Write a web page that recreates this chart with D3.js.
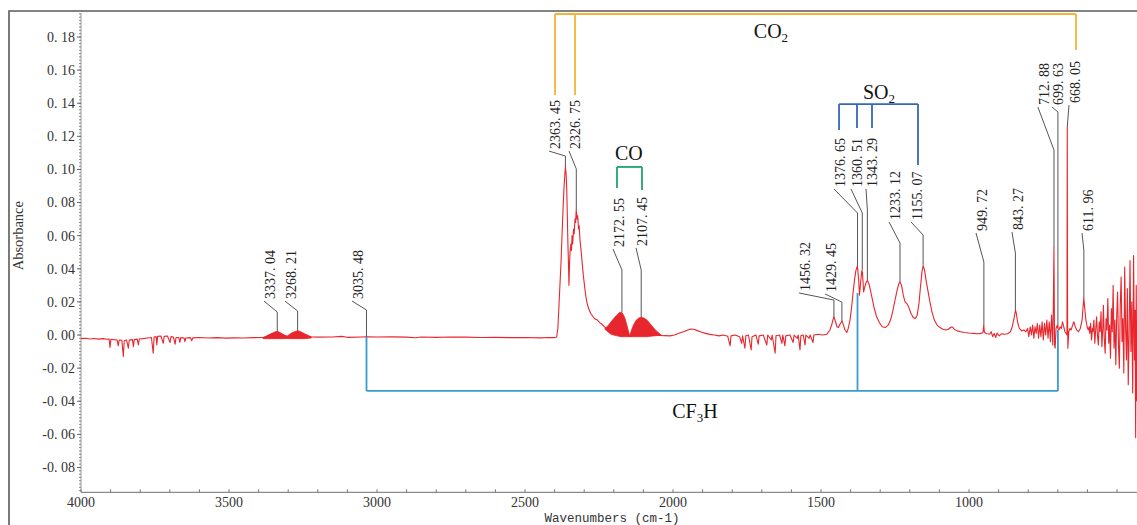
<!DOCTYPE html>
<html>
<head>
<meta charset="utf-8">
<script src="https://cdn.jsdelivr.net/npm/d3@7"></script>
<style>
  html, body { margin: 0; padding: 0; background: #fff; }
  svg { display: block; }
</style>
</head>
<body>
<svg id="chart" width="1137" height="525"></svg>
<script>
// ---------------- DATA ----------------
const xTickValues = [4000, 3500, 3000, 2500, 2000, 1500, 1000];
const yTickValues = [-0.08, -0.06, -0.04, -0.02, 0.00, 0.02, 0.04, 0.06, 0.08, 0.10, 0.12, 0.14, 0.16, 0.18];

// main FTIR trace: [wavenumber cm-1, absorbance]
const spectrum = [
  [4000,-0.0022],[3985,-0.0020],[3970,-0.0024],[3955,-0.0021],[3940,-0.0025],[3925,-0.0022],[3912,-0.0026],[3905,-0.0024],
  [3902,-0.0075],[3899,-0.0026],[3890,-0.0028],[3878,-0.0030],[3874,-0.0065],[3871,-0.0030],[3862,-0.0032],[3857,-0.0130],
  [3854,-0.0035],[3846,-0.0030],[3840,-0.0080],[3837,-0.0030],[3826,-0.0028],[3823,-0.0070],[3820,-0.0028],[3810,-0.0025],
  [3806,-0.0060],[3803,-0.0024],[3790,-0.0022],[3775,-0.0018],[3762,-0.0015],[3756,-0.0110],[3753,-0.0012],[3746,-0.0010],
  [3744,-0.0060],[3741,-0.0008],[3730,-0.0006],[3722,-0.0050],[3719,-0.0008],[3708,-0.0006],[3699,-0.0045],[3696,-0.0010],
  [3688,-0.0012],[3682,-0.0055],[3679,-0.0015],[3670,-0.0015],[3666,-0.0045],[3663,-0.0016],[3652,-0.0018],[3649,-0.0040],
  [3646,-0.0018],[3630,-0.0016],[3626,-0.0035],[3622,-0.0017],[3600,-0.0015],[3570,-0.0018],[3540,-0.0016],[3510,-0.0019],
  [3480,-0.0017],[3450,-0.0018],[3420,-0.0016],[3395,-0.0015],[3380,-0.0014],[3360,0.0004],[3340,0.0012],[3330,0.0010],
  [3310,-0.0006],[3300,-0.0006],[3285,0.0008],[3268,0.0016],[3255,0.0008],[3235,-0.0006],[3220,-0.0012],[3200,-0.0013],
  [3150,-0.0012],[3120,-0.0008],[3100,-0.0014],[3050,-0.0012],[3035,-0.0011],[3000,-0.0012],[2950,-0.0011],[2900,-0.0013],
  [2870,-0.0017],[2850,-0.0012],[2800,-0.0014],[2750,-0.0012],[2700,-0.0013],[2650,-0.0015],[2600,-0.0014],[2550,-0.0016],
  [2500,-0.0015],[2450,-0.0017],[2420,-0.0015],[2400,-0.0016],[2393,-0.0012],
  [2389,0.004],[2386,0.015],[2382,0.030],[2378,0.045],[2375,0.060],[2371,0.078],[2368,0.090],[2365,0.098],[2363.5,0.1015],
  [2361,0.097],[2359,0.088],[2357,0.072],[2355,0.055],[2353,0.042],[2351.5,0.030],[2350,0.040],[2348,0.050],[2345,0.055],
  [2343,0.051],[2341,0.060],[2339,0.055],[2336,0.064],[2334,0.061],[2331,0.070],[2329,0.068],[2327,0.0755],[2324,0.070],
  [2322,0.072],[2319,0.064],[2317,0.066],[2314,0.057],[2311,0.052],[2307,0.044],[2303,0.036],[2299,0.030],[2295,0.024],
  [2290,0.019],[2285,0.016],[2278,0.013],[2270,0.011],[2262,0.0095],[2255,0.009],[2248,0.0075],[2240,0.0065],[2232,0.0050],
  [2225,0.0040],[2215,0.0030],[2200,0.0025],[2185,0.0020],[2170,0.0015],[2160,0.0010],[2150,0.0000],[2145,-0.0008],
  [2135,-0.0004],[2120,0.0000],[2105,0.0004],[2090,0.0004],[2075,0.0002],[2060,0.0000],[2045,-0.0002],[2030,-0.0004],
  [2010,-0.0005],[1995,0.0000],[1980,0.0010],[1965,0.0020],[1950,0.0030],[1940,0.0036],[1930,0.0035],[1920,0.0028],
  [1905,0.0018],[1890,0.0010],[1875,0.0004],[1860,0.0000],[1845,-0.0005],[1830,0.0000],[1815,-0.0008],[1807,-0.0065],
  [1804,-0.0005],[1790,0.0000],[1775,-0.0010],[1768,-0.0050],[1765,-0.0005],[1757,-0.0080],[1754,-0.0005],[1745,0.0000],
  [1736,-0.0090],[1733,-0.0010],[1720,0.0000],[1712,-0.0055],[1709,-0.0005],[1695,0.0000],[1683,-0.0060],[1680,0.0000],
  [1668,-0.0030],[1665,0.0000],[1655,-0.0110],[1652,-0.0005],[1640,0.0000],[1632,-0.0050],[1629,0.0000],[1622,-0.0065],
  [1619,-0.0005],[1605,0.0000],[1594,-0.0045],[1591,0.0000],[1580,-0.0020],[1577,0.0000],[1571,-0.0090],[1568,-0.0005],
  [1560,0.0000],[1554,-0.0060],[1551,0.0000],[1540,-0.0020],[1537,0.0000],[1527,-0.0045],[1524,0.0000],[1510,0.0005],
  [1495,0.0000],[1480,0.0005],[1470,0.0030],[1464,0.0060],[1460,0.0090],[1456,0.0110],[1451,0.0080],[1446,0.0050],
  [1441,0.0045],[1436,0.0065],[1429,0.0085],[1424,0.0060],[1419,0.0030],[1413,0.0015],[1408,0.0040],[1402,0.0090],
  [1397,0.0160],[1392,0.0250],[1387,0.0330],[1382,0.0390],[1377,0.0417],[1373,0.0340],[1370,0.0240],[1366,0.0320],
  [1362,0.0390],[1360,0.0380],[1356,0.0260],[1352,0.0290],[1347,0.0320],[1343,0.0330],[1338,0.0310],[1333,0.0270],
  [1327,0.0220],[1320,0.0160],[1312,0.0110],[1303,0.0075],[1293,0.0050],[1283,0.0045],[1273,0.0060],[1265,0.0090],
  [1258,0.0140],[1250,0.0210],[1243,0.0270],[1237,0.0310],[1233,0.0320],[1228,0.0300],[1222,0.0240],[1216,0.0200],
  [1210,0.0190],[1204,0.0170],[1196,0.0130],[1188,0.0105],[1181,0.0100],[1175,0.0120],[1169,0.0190],[1164,0.0290],
  [1159,0.0380],[1155,0.0420],[1150,0.0390],[1145,0.0330],[1139,0.0270],[1132,0.0200],[1125,0.0140],[1117,0.0090],
  [1108,0.0060],[1098,0.0045],[1088,0.0035],[1078,0.0030],[1070,0.0035],[1062,0.0045],[1057,0.0050],[1050,0.0035],
  [1040,0.0025],[1028,0.0020],[1015,0.0015],[1000,0.0012],[985,0.0010],[970,0.0008],[958,0.0010],[953,0.0015],
  [950,0.0060],[948,0.0015],[940,0.0008],[930,0.0005],[925,0.0020],[920,-0.0010],[915,0.0010],[910,-0.0015],
  [905,0.0012],[898,-0.0005],[890,0.0008],[880,0.0005],[870,0.0008],[860,0.0020],[854,0.0050],[849,0.0090],
  [845,0.0130],[843,0.0150],[840,0.0130],[836,0.0080],[830,0.0040],[822,0.0025],[815,0.0030],[808,0.0020],
  [802,0.0040],[798,-0.0010],[793,0.0050],[789,0.0000],[785,0.0060],[781,-0.0020],[777,0.0050],[773,0.0010],
  [769,0.0070],[765,-0.0020],[761,0.0060],[757,-0.0010],[753,0.0080],[749,-0.0030],[745,0.0070],[741,0.0000],
  [737,0.0090],[733,-0.0020],[729,0.0080],[725,-0.0040],[721,0.0120],[717,-0.0060],[715,0.0200],[713,0.0525],
  [711,-0.0060],[709,-0.0080],[706,0.0040],[702,0.0060],[699.6,0.0040],[696,0.0030],[692,0.0050],[688,0.0040],
  [684,0.0080],[680,0.0050],[676,0.0020],[672,0.0010],[669,0.0000],[668,0.1256],[667,0.0100],[666,-0.0080],
  [663,0.0020],[659,0.0040],[655,0.0030],[650,0.0060],[646,0.0080],[641,0.0050],[636,0.0030],[630,0.0020],
  [624,0.0040],[618,0.0090],[615,0.0160],[612,0.0223],[609,0.0160],[605,0.0090],[601,0.0050],[597,0.0030],
  [594,0.0050],[592,0.0010],[589,0.0070],[586,-0.0030],[583,0.0040],[581,0.0020],[578,0.0090],[575,-0.0050],
  [572,0.0030],[569,0.0110],[566,0.0000],[563,-0.0060],[560,0.0080],[557,0.0020],[554,0.0140],[551,-0.0070],
  [548,0.0040],[546,0.0180],[543,-0.0020],[540,-0.0110],[537,0.0100],[534,0.0030],[531,0.0220],[528,-0.0050],
  [525,0.0060],[522,-0.0140],[519,0.0160],[516,0.0020],[513,0.0300],[510,-0.0080],[507,0.0090],[504,-0.0180],
  [501,0.0120],[498,0.0260],[495,-0.0060],[492,-0.0200],[489,0.0180],[486,0.0350],[483,-0.0040],[480,0.0100],
  [477,-0.0230],[474,0.0410],[471,0.0050],[468,-0.0150],[465,0.0280],[462,-0.0300],[459,0.0020],[456,0.0450],
  [453,-0.0100],[450,0.0200],[447,-0.0350],[444,0.0480],[441,-0.0150],[439,0.0150],[437,-0.0620],[435,0.0300],
  [433,-0.0400]
];

// dense rotational fine-structure bands: [wavenumber, lower, upper]
const band3337 = [[3385,-0.0022,-0.0015],[3370,-0.0022,-0.0005],[3355,-0.0022,0.0010],[3345,-0.0022,0.0018],[3337,-0.0022,0.0022],[3328,-0.0022,0.0015],[3315,-0.0022,0.0002],[3300,-0.0020,-0.0012]];
const band3268 = [[3305,-0.0020,-0.0012],[3295,-0.0022,0.0005],[3285,-0.0022,0.0015],[3275,-0.0022,0.0022],[3268,-0.0022,0.0026],[3258,-0.0022,0.0020],[3245,-0.0022,0.0008],[3232,-0.0020,-0.0003],[3222,-0.0018,-0.0013]];
const bandCOR = [[2230,0.0035,0.0040],[2220,0.0020,0.0055],[2210,0.0005,0.0078],[2200,0.0000,0.0100],[2190,-0.0005,0.0120],[2182,-0.0008,0.0134],[2176,-0.0010,0.0138],[2170,-0.0010,0.0130],[2163,-0.0010,0.0105],[2157,-0.0010,0.0068],[2151,-0.0010,0.0025],[2146,-0.0010,-0.0005]];
const bandCOP = [[2146,-0.0010,-0.0005],[2140,-0.0010,0.0030],[2133,-0.0010,0.0062],[2125,-0.0010,0.0088],[2116,-0.0010,0.0102],[2107,-0.0010,0.0107],[2098,-0.0010,0.0102],[2088,-0.0010,0.0090],[2078,-0.0008,0.0070],[2068,-0.0006,0.0048],[2058,-0.0004,0.0028],[2048,-0.0002,0.0012],[2040,0.0000,0.0000]];

// peak annotations
const peakWn  = [3337.04, 3268.21, 3035.48, 2363.45, 2326.75, 2172.55, 2107.45, 1456.32, 1429.45, 1376.65, 1360.51, 1343.29, 1233.12, 1155.07, 949.72, 843.27, 712.88, 699.63, 668.05, 611.96];
const peakAbs = [0.0018, 0.0024, -0.0012, 0.1015, 0.0755, 0.0135, 0.0105, 0.0109, 0.0085, 0.0417, 0.0393, 0.0332, 0.0320, 0.0423, 0.0060, 0.0151, 0.0525, 0.0042, 0.1256, 0.0223];

// annotation layout (data units)
const labelWn     = [3361.5, 3290.5, 3064, 2398.6, 2331, 2182.4, 2104.7, 1554, 1466, 1436, 1378.4, 1327.7, 1250, 1175.7, 956, 834.5, 747, 699.3, 641.9, 598];
const labelBottom = [0.0211, 0.0211, 0.0211, 0.1117, 0.1117, 0.0525, 0.0532, 0.0260, 0.0254, 0.0888, 0.0888, 0.0888, 0.0689, 0.0689, 0.0622, 0.0628, 0.1383, 0.1383, 0.1395, 0.0622];
const kneeAbs     = [0.0139, 0.0145, 0.0151, 0.1081, 0.1003, 0.0393, 0.0393, 0.0211, 0.0199, 0.0737, 0.0737, 0.0755, 0.0556, 0.0604, 0.0441, 0.0495, 0.1117, 0.1347, 0.1256, 0.0513];

// group brackets
const groupNames = ["CO2", "SO2", "CO", "CF3H"];
const groupColors = ["#F2B535", "#3468B8", "#1FA56A", "#3A9AD2"];
const groupBarAbs = [0.1939, 0.1395, 0.1015, -0.0338];
const groupLegWn = [[2398.6, 2331, 638.5], [1439, 1378.4, 1327.7, 1172.3], [2189.2, 2104.7], [3035.48, 1376.65, 699.63]];
const groupLegEndAbs = [[0.1450, 0.1450, 0.1721], [0.1238, 0.1250, 0.1250, 0.1027], [0.0888, 0.0876], [-0.0012, 0.0254, 0.0030]];
const groupTextWn = [1669, 1304, 2149, 1926];
const groupTextAbs = [0.1794, 0.1425, 0.1057, -0.0501];

// ---------------- DRAW ----------------
const svg = d3.select("#chart");
const x = d3.scaleLinear().domain([4000, 400]).range([81, 1146.6]);
const y = d3.scaleLinear().domain([-0.095, 0.196]).range([492.3, 10.5]);
const serif = "'Liberation Serif', 'DejaVu Serif', serif";

// outer frame
svg.append("path").attr("d", "M9,525 L9,11 L1137,11")
  .attr("fill", "none").attr("stroke", "#5a5a5a").attr("stroke-width", 1.6);

// y axis
const yAxisG = svg.append("g").attr("transform", "translate(81,0)");
yAxisG.append("line").attr("y1", y.range()[0]).attr("y2", 13).attr("stroke", "#9a9a9a").attr("stroke-width", 1);
const yMinor = d3.range(-0.094, 0.195, 0.002);
yAxisG.selectAll("line.ym").data(yMinor).join("line").attr("class", "ym")
  .attr("x1", -2).attr("x2", 0).attr("y1", d => y(d)).attr("y2", d => y(d))
  .attr("stroke", "#888").attr("stroke-width", 1);
yAxisG.selectAll("line.yM").data(yTickValues).join("line").attr("class", "yM")
  .attr("x1", -4).attr("x2", 0).attr("y1", d => y(d)).attr("y2", d => y(d))
  .attr("stroke", "#666").attr("stroke-width", 1);
const fmtY = d => (d < 0 ? "-" : "") + d3.format(".2f")(Math.abs(d)).replace(".", ". ");
yAxisG.selectAll("text").data(yTickValues).join("text")
  .attr("x", -6).attr("y", d => y(d)).attr("dy", "0.35em")
  .attr("text-anchor", "end").attr("font-family", serif).attr("font-size", 14).attr("fill", "#333")
  .text(fmtY);
svg.append("text").attr("transform", `translate(23,${y(0.06)}) rotate(-90)`)
  .attr("text-anchor", "middle").attr("font-family", serif).attr("font-size", 14.5).attr("fill", "#333")
  .text("Absorbance");

// x axis
const xAxisG = svg.append("g").attr("transform", `translate(0,${y.range()[0]})`);
xAxisG.append("line").attr("x1", 81).attr("x2", 1137).attr("stroke", "#8a8a8a").attr("stroke-width", 1.2);
xAxisG.selectAll("line.xt").data(d3.range(4000, 399, -100)).join("line").attr("class", "xt")
  .attr("x1", d => x(d)).attr("x2", d => x(d)).attr("y1", -3).attr("y2", 0)
  .attr("stroke", "#777").attr("stroke-width", 1);
xAxisG.selectAll("text").data(xTickValues).join("text")
  .attr("x", d => x(d)).attr("y", 14.5).attr("text-anchor", "middle")
  .attr("font-family", serif).attr("font-size", 14).attr("fill", "#333").text(d => d);
svg.append("text").attr("x", 612).attr("y", 522).attr("text-anchor", "middle")
  .attr("font-family", "'Liberation Mono', 'DejaVu Sans Mono', monospace").attr("font-size", 12.5).attr("fill", "#333")
  .text("Wavenumbers (cm-1)");

// leaders
const leaderG = svg.append("g");
peakWn.forEach((wn, i) => {
  const lx = x(labelWn[i]), ly = y(labelBottom[i]);
  const px = x(wn), ky = y(kneeAbs[i]), py = y(peakAbs[i]);
  leaderG.append("path")
    .attr("d", `M${lx - 6},${ly + 1} L${px},${ky} L${px},${py}`)
    .attr("fill", "none").attr("stroke", "#555").attr("stroke-width", 1);
  leaderG.append("text")
    .attr("transform", `translate(${lx},${ly - 1}) rotate(-90)`)
    .attr("dy", "0.35em").attr("text-anchor", "start")
    .attr("font-family", serif).attr("font-size", 14).attr("fill", "#222")
    .text(d3.format(".2f")(wn).replace(".", ". "));
});

// spectrum
const red = "#E8262D";
const area = d3.area().x(d => x(d[0])).y0(d => y(d[1])).y1(d => y(d[2]));
[band3337, band3268, bandCOR, bandCOP].forEach(b => {
  svg.append("path").datum(b).attr("d", area).attr("fill", red).attr("stroke", red).attr("stroke-width", 0.8);
});
svg.append("path").datum(spectrum)
  .attr("d", d3.line().x(d => x(d[0])).y(d => y(d[1])))
  .attr("fill", "none").attr("stroke", red).attr("stroke-width", 1.1).attr("stroke-linejoin", "round");

// group brackets
groupNames.forEach((g, i) => {
  const legs = groupLegWn[i], ends = groupLegEndAbs[i], by = y(groupBarAbs[i]);
  const gg = svg.append("g").attr("stroke", groupColors[i]).attr("stroke-width", 1.8).attr("fill", "none");
  gg.append("line").attr("x1", x(d3.max(legs))).attr("x2", x(d3.min(legs))).attr("y1", by).attr("y2", by);
  legs.forEach((w, j) => {
    gg.append("line").attr("x1", x(w)).attr("x2", x(w)).attr("y1", by).attr("y2", y(ends[j]));
  });
});
const parts = { CO2: ["CO", "2", ""], SO2: ["SO", "2", ""], CO: ["CO", "", ""], CF3H: ["CF", "3", "H"] };
groupNames.forEach((g, i) => {
  const t = svg.append("text").attr("x", x(groupTextWn[i])).attr("y", y(groupTextAbs[i]))
    .attr("text-anchor", "middle").attr("font-family", serif).attr("font-size", 20).attr("fill", "#111");
  const p = parts[g];
  t.append("tspan").text(p[0]);
  if (p[1]) t.append("tspan").attr("font-size", 13).attr("dy", 4).text(p[1]);
  if (p[2]) t.append("tspan").attr("dy", -4).text(p[2]);
});
</script>
</body>
</html>
